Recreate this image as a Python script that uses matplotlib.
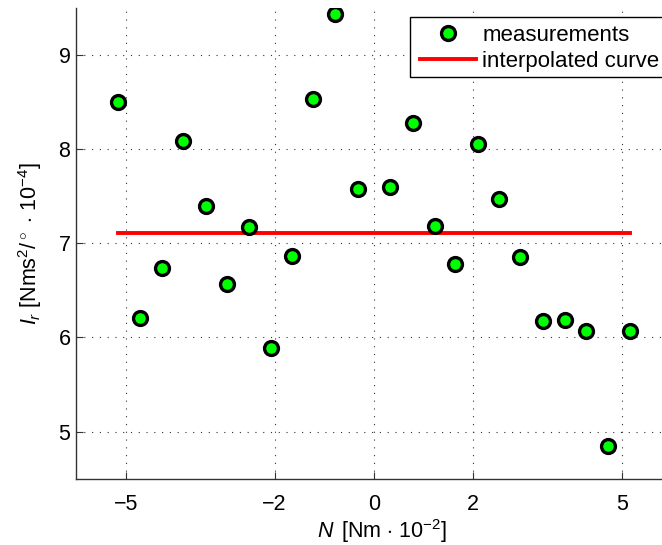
import matplotlib
matplotlib.use('Agg')
import matplotlib.pyplot as plt
from matplotlib.patches import Rectangle

torque = [-5.15, -4.71, -4.27, -3.84, -3.39, -2.96, -2.52, -2.08, -1.64, -1.22, -0.78, -0.33,
          0.33, 0.78, 1.22, 1.64, 2.09, 2.52, 2.95, 3.41, 3.84, 4.27, 4.72, 5.16]
inertia = [8.50, 6.21, 6.74, 8.09, 7.40, 6.57, 7.17, 5.89, 6.87, 8.53, 9.44, 7.58,
           7.60, 8.28, 7.18, 6.78, 8.06, 7.47, 6.86, 6.17, 6.19, 6.07, 4.85, 6.07]

# interpolated curve (flat)
curve_x = [-5.15, 5.16]
curve_y = [7.11, 7.11]

xticks = [-5, -2, 0, 2, 5]
yticks = [5, 6, 7, 8, 9]

plt.rcParams['font.family'] = ['Liberation Sans', 'DejaVu Sans']
plt.rcParams['mathtext.fontset'] = 'custom'
plt.rcParams['mathtext.rm'] = 'Liberation Sans'
plt.rcParams['mathtext.it'] = 'Liberation Sans:italic'
plt.rcParams['mathtext.bf'] = 'Liberation Sans:bold'

W, H = 662, 545
fig = plt.figure(figsize=(W / 100, H / 100), dpi=100)
ax = fig.add_axes([0.1148, 0.1217, 0.9001, 0.8636])

ax.plot(torque, inertia, 'o', color='#00ff00', markeredgecolor='black',
        markersize=10, markeredgewidth=2.4, label='measurements', zorder=3)
ax.plot(curve_x, curve_y, '-', color='red', lw=2.8, label='interpolated curve', zorder=2)

ax.set_xlim(-6, 6)
ax.set_ylim(4.5, 9.5)
ax.set_xticks(xticks)
ax.set_yticks(yticks)

# matlab-ish look: box off, dotted grid, ticks inside
for side in ['top', 'right']:
    ax.spines[side].set_visible(False)
for side in ['left', 'bottom']:
    ax.spines[side].set_color('#333333')
    ax.spines[side].set_linewidth(1.0)
ax.tick_params(direction='in', length=5, width=0.8, labelsize=15.5, colors='#333333',
               labelcolor='black')
ax.tick_params(axis='x', pad=11)
ax.tick_params(axis='y', pad=4)
ax.grid(True, color='#333333', linestyle=(0, (1, 6)), linewidth=0.8)
ax.set_axisbelow(True)

ax.set_xlabel(r'$N\,$ [Nm $\cdot$ 10$^{-2}$]', fontsize=15.5)
ax.set_ylabel(r'$I_r$ [Nms$^2$/$^\circ$ $\cdot$ 10$^{-4}$]', fontsize=15.5)
ax.xaxis.set_label_coords(0.514, -0.081)
ax.yaxis.set_label_coords(-0.053, 0.5)

# legend box drawn by hand so it runs off the right edge like the original
frame = Rectangle((410 / W, 1 - 76.7 / H), 262 / W, 60 / H, transform=fig.transFigure,
                  facecolor='white', edgecolor='black', linewidth=1.0, zorder=4)
fig.patches.append(frame)
leg = fig.legend(loc='upper left', bbox_to_anchor=(420 / W, 1 - 25 / H),
                 bbox_transform=fig.transFigure, fontsize=16, numpoints=1,
                 frameon=False, borderaxespad=0, borderpad=0,
                 labelspacing=0.22, handlelength=2.5, handletextpad=0.3)
leg.set_zorder(5)

fig.savefig('out.png', dpi=100)
